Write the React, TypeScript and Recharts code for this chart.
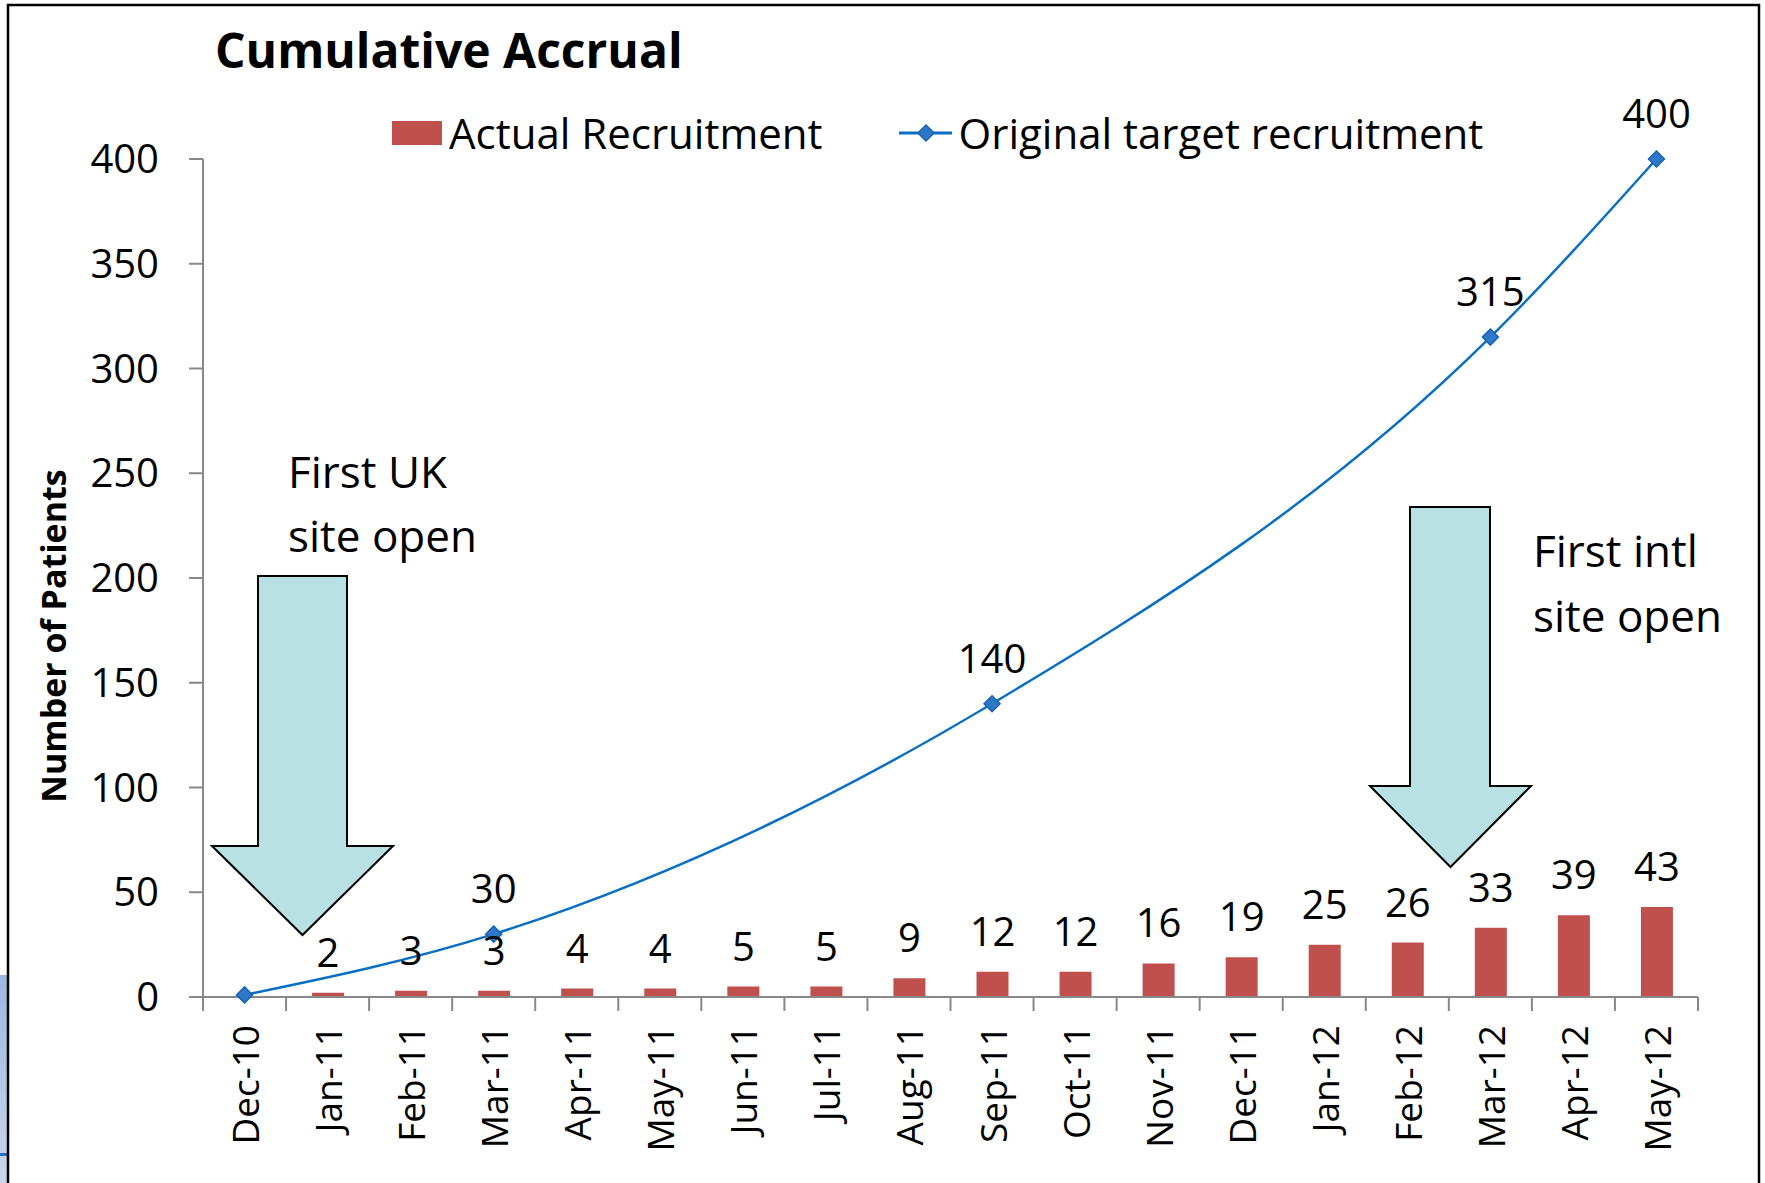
import React from 'react';
import {
  ComposedChart, Bar, Line, XAxis, YAxis, Legend, LabelList,
} from 'recharts';

// chart data
const months = [
  'Dec-10', 'Jan-11', 'Feb-11', 'Mar-11', 'Apr-11', 'May-11', 'Jun-11', 'Jul-11', 'Aug-11',
  'Sep-11', 'Oct-11', 'Nov-11', 'Dec-11', 'Jan-12', 'Feb-12', 'Mar-12', 'Apr-12', 'May-12',
];
const actualRecruitment = [null, 2, 3, 3, 4, 4, 5, 5, 9, 12, 12, 16, 19, 25, 26, 33, 39, 43];
const targetRecruitment = [1, null, null, 30, null, null, null, null, null, 140, null, null, null, null, null, 315, null, 400];
// the starting point of the target line carries no label
const targetLabelled = [false, false, false, true, false, false, false, false, false, true, false, false, false, false, false, true, false, true];
const yTicks = [0, 50, 100, 150, 200, 250, 300, 350, 400];

const data = months.map((m, i) => ({
  month: m,
  actual: actualRecruitment[i],
  target: targetRecruitment[i],
  targetLabel: targetLabelled[i] ? targetRecruitment[i] : null,
}));

const W = 1765;
const H = 1183;
const PLOT_LEFT = 203;
const PLOT_RIGHT = 1698;
const PLOT_TOP = 159;
const PLOT_BOTTOM = 997;
const BAND = (PLOT_RIGHT - PLOT_LEFT) / months.length;

const FONT = '"Open Sans", "DejaVu Sans", sans-serif';
const BAR_COLOR = '#C0504D';
const LINE_COLOR = '#0A6FC2';
const AXIS_COLOR = '#888888';
const ARROW_FILL = '#B9E0E3';

const XTick = (props: any) => {
  const { x, payload, index } = props;
  const half = BAND / 2;
  const ty = PLOT_BOTTOM + 28;
  return (
    <g>
      <line x1={x - half} x2={x - half} y1={PLOT_BOTTOM} y2={PLOT_BOTTOM + 14} stroke={AXIS_COLOR} strokeWidth={2} />
      {index === months.length - 1 && (
        <line x1={x + half} x2={x + half} y1={PLOT_BOTTOM} y2={PLOT_BOTTOM + 14} stroke={AXIS_COLOR} strokeWidth={2} />
      )}
      <text
        x={x}
        y={ty}
        transform={`rotate(-90 ${x} ${ty})`}
        textAnchor="end"
        dominantBaseline="central"
        fontFamily={FONT}
        fontSize={37}
        fill="#000"
      >
        {payload.value}
      </text>
    </g>
  );
};

const Diamond = (props: any) => {
  const { cx, cy, payload } = props;
  if (cx == null || cy == null || payload == null || payload.target == null) return null;
  const r = 8;
  return (
    <polygon
      key={`d-${payload.month}`}
      points={`${cx},${cy - r} ${cx + r},${cy} ${cx},${cy + r} ${cx - r},${cy}`}
      fill="#2F78C8"
      stroke="#1763B3"
      strokeWidth={1.5}
    />
  );
};

const valueLabel = (offset: number) => (props: any) => {
  const { x, y, width, value } = props;
  if (value == null) return null;
  const cx = width != null ? x + width / 2 : x;
  return (
    <text x={cx} y={y - offset} textAnchor="middle" fontFamily={FONT} fontSize={40} fill="#000">
      {value}
    </text>
  );
};

const LegendContent = () => (
  <div style={{ display: 'flex', alignItems: 'center', fontFamily: FONT, fontSize: 42, color: '#000', whiteSpace: 'nowrap' }}>
    <span style={{ display: 'inline-block', width: 50, height: 24, background: BAR_COLOR }} />
    <span style={{ marginLeft: 7, lineHeight: '56px' }}>Actual Recruitment</span>
    <svg width={53} height={20} style={{ marginLeft: 76 }}>
      <line x1={0} x2={53} y1={10} y2={10} stroke={LINE_COLOR} strokeWidth={3} />
      <polygon points="27,2 35,10 27,18 19,10" fill="#2F78C8" stroke="#1763B3" strokeWidth={1.5} />
    </svg>
    <span style={{ marginLeft: 7, lineHeight: '56px' }}>Original target recruitment</span>
  </div>
);

const downArrow = (sx1: number, sx2: number, top: number, headY: number, hx1: number, hx2: number, tipY: number) => {
  const tipX = (hx1 + hx2) / 2;
  return `${sx1},${top} ${sx2},${top} ${sx2},${headY} ${hx2},${headY} ${tipX},${tipY} ${hx1},${headY} ${sx1},${headY}`;
};

export default function App() {
  return (
    <div style={{ position: 'fixed', left: 0, top: 0, width: W, height: H, background: '#fff', overflow: 'hidden' }}>
      {/* edge of the slide shape peeking in at the left */}
      <div style={{ position: 'absolute', left: 0, top: 975, width: 7, height: 208, background: 'linear-gradient(#9db8e0, #c9d7ea)' }} />
      <div style={{ position: 'absolute', left: 0, top: 1153, width: 7, height: 3, background: '#2A70C0' }} />

      <ComposedChart
        width={W}
        height={H}
        data={data}
        margin={{ top: PLOT_TOP, right: W - PLOT_RIGHT, bottom: 0, left: 8 }}
        style={{ position: 'absolute', left: 0, top: 0 }}
      >
        <XAxis
          dataKey="month"
          height={H - PLOT_BOTTOM}
          interval={0}
          tickLine={false}
          axisLine={{ stroke: AXIS_COLOR, strokeWidth: 2 }}
          tick={<XTick />}
        />
        <YAxis
          width={PLOT_LEFT - 8}
          domain={[0, 400]}
          ticks={yTicks}
          tickSize={14}
          tickMargin={30}
          tickLine={{ stroke: AXIS_COLOR, strokeWidth: 2 }}
          axisLine={{ stroke: AXIS_COLOR, strokeWidth: 2 }}
          tick={{ fontFamily: FONT, fontSize: 40, fill: '#000' }}
        />
        <Legend
          layout="horizontal"
          verticalAlign="middle"
          align="center"
          content={<LegendContent />}
          wrapperStyle={{ left: 392, top: 105, width: 1200, height: 56 }}
        />
        <Bar dataKey="actual" name="Actual Recruitment" fill={BAR_COLOR} barSize={32} isAnimationActive={false}>
          <LabelList dataKey="actual" content={valueLabel(26)} />
        </Bar>
        <Line
          dataKey="target"
          name="Original target recruitment"
          type="monotone"
          connectNulls
          stroke={LINE_COLOR}
          strokeWidth={2.5}
          dot={<Diamond />}
          activeDot={false}
          isAnimationActive={false}
        >
          <LabelList dataKey="targetLabel" content={valueLabel(31)} />
        </Line>
      </ComposedChart>

      <svg width={W} height={H} style={{ position: 'absolute', left: 0, top: 0, pointerEvents: 'none' }}>
        <rect x={8} y={5} width={1751} height={H + 20} fill="none" stroke="#000" strokeWidth={2.5} />
        <text x={215} y={68} fontFamily={FONT} fontWeight="bold" fontSize={48} fill="#000">
          Cumulative Accrual
        </text>
        <text
          x={53}
          y={636}
          transform="rotate(-90 53 636)"
          textAnchor="middle"
          dominantBaseline="central"
          fontFamily={FONT}
          fontWeight="bold"
          fontSize={34}
          fill="#000"
        >
          Number of Patients
        </text>

        <polygon points={downArrow(258, 347, 576, 846, 212, 393, 935)} fill={ARROW_FILL} stroke="#000" strokeWidth={2} />
        <text fontFamily={FONT} fontSize={44} fill="#000">
          <tspan x={288} y={488}>First UK</tspan>
          <tspan x={288} y={552}>site open</tspan>
        </text>

        <polygon points={downArrow(1410, 1490, 507, 786, 1370, 1531, 867)} fill={ARROW_FILL} stroke="#000" strokeWidth={2} />
        <text fontFamily={FONT} fontSize={44} fill="#000">
          <tspan x={1533} y={567}>First intl</tspan>
          <tspan x={1533} y={632}>site open</tspan>
        </text>
      </svg>
    </div>
  );
}
